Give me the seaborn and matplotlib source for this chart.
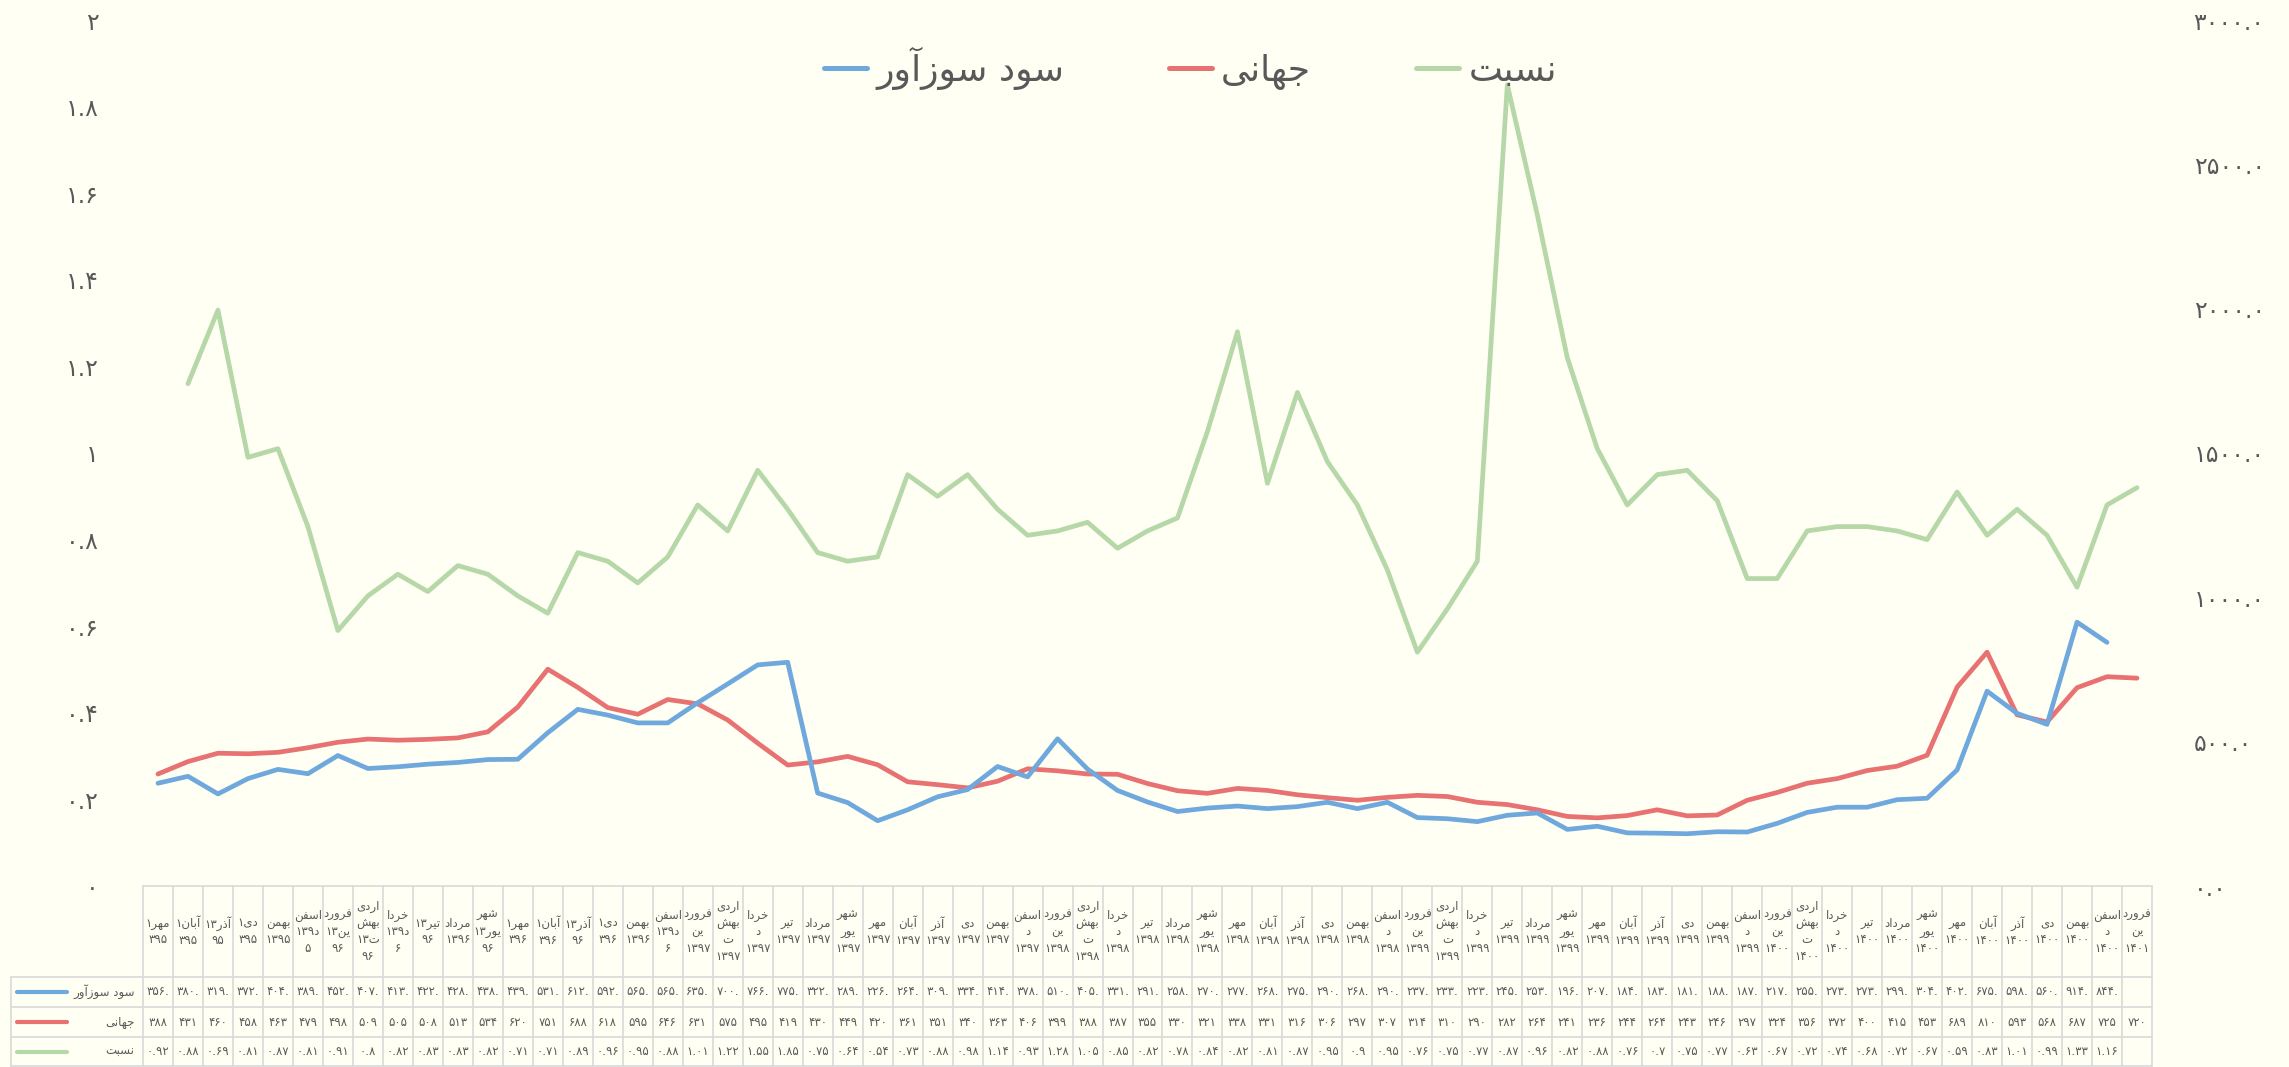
import re
import unicodedata

import numpy as np
import pandas as pd
import seaborn as sns
import matplotlib
matplotlib.use("Agg")
import matplotlib.pyplot as plt
import matplotlib.transforms as mtransforms
from matplotlib.lines import Line2D

month_parts = ['فرورد\nین', 'اردی\nبهش\nت', 'خردا\nد', 'تیر', 'مرداد', 'شهر\nیور',
               'مهر', 'آبان', 'آذر', 'دی', 'بهمن', 'اسفن\nد']
labels_early = ['مهر۱\n۳۹۵', 'آبان۱\n۳۹۵', 'آذر۱۳\n۹۵', 'دی۱\n۳۹۵', 'بهمن\n۱۳۹۵', 'اسفن\nد۱۳۹\n۵',
                'فرورد\nین۱۳\n۹۶', 'اردی\nبهش\nت۱۳\n۹۶', 'خردا\nد۱۳۹\n۶', 'تیر۱۳\n۹۶', 'مرداد\n۱۳۹۶',
                'شهر\nیور۱۳\n۹۶', 'مهر۱\n۳۹۶', 'آبان۱\n۳۹۶', 'آذر۱۳\n۹۶', 'دی۱\n۳۹۶', 'بهمن\n۱۳۹۶',
                'اسفن\nد۱۳۹\n۶']
years = ['۱۳۹۷', '۱۳۹۸', '۱۳۹۹', '۱۴۰۰']
labels = labels_early + [f'{m}\n{y}' for y in years for m in month_parts] + ['فرورد\nین\n۱۴۰۱']

sood = [356, 380, 319, 372, 404, 389,
        452, 407, 413, 422, 428, 438, 439, 531, 612, 592, 565, 565,
        635, 700, 766, 775, 322, 289, 226, 264, 309, 334, 414, 378,
        510, 405, 331, 291, 258, 270, 277, 268, 275, 290, 268, 290,
        237, 233, 223, 245, 253, 196, 207, 184, 183, 181, 188, 187,
        217, 255, 273, 273, 299, 304, 402, 675, 598, 560, 914, 844,
        np.nan]
jahani = [388, 431, 460, 458, 463, 479,
          498, 509, 505, 508, 513, 534, 620, 751, 688, 618, 595, 646,
          631, 575, 495, 419, 430, 449, 420, 361, 351, 340, 363, 406,
          399, 388, 387, 355, 330, 321, 338, 331, 316, 306, 297, 307,
          314, 310, 290, 282, 264, 241, 236, 244, 264, 243, 246, 297,
          324, 356, 372, 400, 415, 453, 689, 810, 593, 568, 687, 725,
          720]
nesbat = [0.92, 0.88, 0.69, 0.81, 0.87, 0.81,
          0.91, 0.8, 0.82, 0.83, 0.83, 0.82, 0.71, 0.71, 0.89, 0.96, 0.95, 0.88,
          1.01, 1.22, 1.55, 1.85, 0.75, 0.64, 0.54, 0.73, 0.88, 0.98, 1.14, 0.93,
          1.28, 1.05, 0.85, 0.82, 0.78, 0.84, 0.82, 0.81, 0.87, 0.95, 0.9, 0.95,
          0.76, 0.75, 0.77, 0.87, 0.96, 0.82, 0.88, 0.76, 0.7, 0.75, 0.77, 0.63,
          0.67, 0.72, 0.74, 0.68, 0.72, 0.67, 0.59, 0.83, 1.01, 0.99, 1.33, 1.16,
          np.nan]
series_names = ['سود سوزآور', 'جهانی', 'نسبت']

BLUE, RED, GREEN = '#6fa8dc', '#e87171', '#b6d7a8'
BG = '#fffff4'
TXT = '#595959'
GRID = '#d9d9d9'

# ---------------- persian text helpers (matplotlib has no arabic shaping) ----------------
FORMS = {  # isolated, final, initial, medial
    '\u0627': ('\uFE8D', '\uFE8E', None, None),
    '\u0622': ('\uFE81', '\uFE82', None, None),
    '\u0628': ('\uFE8F', '\uFE90', '\uFE91', '\uFE92'),
    '\u062A': ('\uFE95', '\uFE96', '\uFE97', '\uFE98'),
    '\u062C': ('\uFE9D', '\uFE9E', '\uFE9F', '\uFEA0'),
    '\u062E': ('\uFEA5', '\uFEA6', '\uFEA7', '\uFEA8'),
    '\u062F': ('\uFEA9', '\uFEAA', None, None),
    '\u0630': ('\uFEAB', '\uFEAC', None, None),
    '\u0631': ('\uFEAD', '\uFEAE', None, None),
    '\u0632': ('\uFEAF', '\uFEB0', None, None),
    '\u0633': ('\uFEB1', '\uFEB2', '\uFEB3', '\uFEB4'),
    '\u0634': ('\uFEB5', '\uFEB6', '\uFEB7', '\uFEB8'),
    '\u0641': ('\uFED1', '\uFED2', '\uFED3', '\uFED4'),
    '\u0645': ('\uFEE1', '\uFEE2', '\uFEE3', '\uFEE4'),
    '\u0646': ('\uFEE5', '\uFEE6', '\uFEE7', '\uFEE8'),
    '\u0647': ('\uFEE9', '\uFEEA', '\uFEEB', '\uFEEC'),
    '\u0648': ('\uFEED', '\uFEEE', None, None),
    '\u06CC': ('\uFEEF', '\uFEF0', '\uFEF3', '\uFEF4'),
}
FA_DIGITS = str.maketrans('0123456789', '۰۱۲۳۴۵۶۷۸۹')


def shape(word):
    out = []
    for i, c in enumerate(word):
        f = FORMS.get(c)
        if f is None:
            out.append(c)
            continue
        prev = word[i - 1] if i > 0 else ''
        nxt = word[i + 1] if i + 1 < len(word) else ''
        jp = prev in FORMS and FORMS[prev][2] is not None
        jn = f[2] is not None and nxt in FORMS
        out.append(f[3] if jp and jn else f[1] if jp else f[2] if jn else f[0])
    return ''.join(out)


def fa(s):
    s = unicodedata.normalize('NFC', s).replace('\u064A', '\u06CC')
    lines = []
    for line in s.split('\n'):
        runs = re.findall(r'[\u06F0-\u06F90-9.]+|[^\u06F0-\u06F90-9.]+', shape(line))
        lines.append(''.join(r if re.match(r'[\u06F0-\u06F90-9.]', r) else r[::-1]
                             for r in reversed(runs)))
    return '\n'.join(lines)


def fnum(v, fmt):
    return format(v, fmt).translate(FA_DIGITS)


# ---------------- figure ----------------
sns.set_style('white')
plt.rcParams['font.family'] = ['DejaVu Sans']

df = pd.DataFrame({'idx': np.arange(len(labels)), 'sood': sood, 'jahani': jahani,
                   # the chart draws the ratio against a reversed category order
                   'nesbat_line': nesbat[::-1]})

fig = plt.figure(figsize=(22.89, 10.67), dpi=100, facecolor=BG)
ax = fig.add_axes([143 / 2289, 181 / 1067, 2009 / 2289, 866 / 1067], facecolor=BG)
ax2 = ax.twinx()
ax2.patch.set_visible(False)

lw = 3.4
sns.lineplot(data=df, x='idx', y='nesbat_line', ax=ax, color=GREEN, linewidth=lw,
             errorbar=None, solid_capstyle='round', solid_joinstyle='round')
sns.lineplot(data=df, x='idx', y='jahani', ax=ax2, color=RED, linewidth=lw,
             errorbar=None, solid_capstyle='round', solid_joinstyle='round')
sns.lineplot(data=df, x='idx', y='sood', ax=ax2, color=BLUE, linewidth=lw,
             errorbar=None, solid_capstyle='round', solid_joinstyle='round')

n = len(labels)
for a in (ax, ax2):
    a.set_xlim(-0.5, n - 0.5)
    a.set_xticks([])
    a.set_xlabel('')
    a.set_ylabel('')
    for sp in a.spines.values():
        sp.set_visible(False)

ax.set_ylim(0, 2)
lt = np.round(np.arange(0, 2.01, 0.2), 1)
ax.set_yticks(lt)
ax.set_yticklabels([fnum(v, 'g') for v in lt])
ax.tick_params(axis='y', length=0, pad=32, labelsize=17, labelcolor=TXT)

ax2.set_ylim(0, 3000)
rt = np.arange(0, 3001, 500)
ax2.set_yticks(rt)
ax2.set_yticklabels([fnum(float(v), '.1f') for v in rt])
ax2.tick_params(axis='y', length=0, pad=30, labelsize=17, labelcolor=TXT)

# ---------------- data table under the plot ----------------
trans = mtransforms.blended_transform_factory(ax.transData, ax.transAxes)
y_head = -0.1051
row_edges = [y_head, -0.1397, -0.1744, -0.2079]
x_left = -4.9


def seg(xs, ys, **kw):
    ax.add_artist(Line2D(xs, ys, transform=trans, clip_on=False, **kw))


seg([-0.5, n - 0.5], [0, 0], color=GRID, lw=1.2)
for k in range(n + 1):
    seg([k - 0.5, k - 0.5], [0, row_edges[-1]], color=GRID, lw=1.2)
for y in row_edges:
    seg([x_left, n - 0.5], [y, y], color=GRID, lw=1.2)
seg([x_left, x_left], [y_head, row_edges[-1]], color=GRID, lw=1.2)

for i, lab in enumerate(labels):
    ax.text(i, y_head / 2, fa(lab), transform=trans, ha='center', va='center',
            multialignment='center', fontsize=8.5, color=TXT, linespacing=1.35)

rows = [
    ([fnum(int(v), 'd') + '.' if not np.isnan(v) else '' for v in sood], BLUE),
    ([fnum(int(v), 'd') for v in jahani], RED),
    ([fnum(v, 'g') if not np.isnan(v) else '' for v in nesbat], GREEN),
]
for r, ((texts, col), name) in enumerate(zip(rows, series_names)):
    yc = (row_edges[r] + row_edges[r + 1]) / 2
    seg([-4.7, -3.05], [yc, yc], color=col, lw=3.0, solid_capstyle='round')
    ax.text(-0.78, yc, fa(name), transform=trans, ha='right', va='center',
            fontsize=8.5, color=TXT)
    for i, t in enumerate(texts):
        ax.text(i, yc, t, transform=trans, ha='center', va='center',
                fontsize=8.5, color=TXT)

# ---------------- legend ----------------
handles = [Line2D([], [], color=c, lw=3.6, solid_capstyle='round') for c in (BLUE, RED, GREEN)]
leg = fig.legend(handles, [fa(s) for s in series_names], loc='center',
                 bbox_to_anchor=(0.52, 0.936), ncol=3, frameon=False, fontsize=26,
                 handlelength=1.2, handletextpad=0.25, columnspacing=2.9)
for t in leg.get_texts():
    t.set_color(TXT)

fig.savefig('out.png', dpi=100, facecolor=BG)
